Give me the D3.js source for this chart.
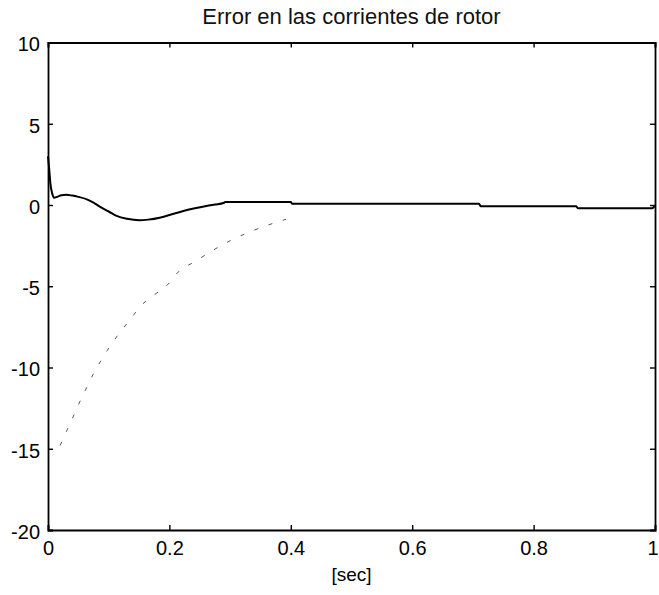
<!DOCTYPE html>
<html>
<head>
<meta charset="utf-8">
<script src="https://cdn.jsdelivr.net/npm/d3@7"></script>
<style>
  body { margin: 0; background: #fff; overflow: hidden; }
  svg { display: block; }
</style>
</head>
<body>
<svg id="chart"></svg>
<script>
// Data
const xTicks = [0, 0.2, 0.4, 0.6, 0.8, 1];
const yTicks = [-20, -15, -10, -5, 0, 5, 10];

// Error (solid line)
const errTime = [0, 0.002, 0.004, 0.007, 0.01, 0.015, 0.022, 0.03, 0.04, 0.05, 0.064, 0.075, 0.086, 0.1, 0.113,
                 0.13, 0.151, 0.165, 0.184, 0.2, 0.223, 0.24, 0.261, 0.275, 0.289, 0.292, 0.4, 0.402, 0.71, 0.713,
                 0.87, 0.873, 0.995, 1.0];
const errValue = [3.0, 2.2, 1.3, 0.7, 0.45, 0.5, 0.6, 0.63, 0.58, 0.5, 0.35, 0.15, -0.12, -0.4, -0.67,
                  -0.85, -0.94, -0.9, -0.78, -0.62, -0.37, -0.22, -0.06, 0.03, 0.12, 0.18, 0.18, 0.08, 0.08, -0.08,
                  -0.08, -0.2, -0.2, -0.05];

// Reference trace (faint dashed line)
const refTime = [0.02, 0.032, 0.043, 0.05, 0.059, 0.074, 0.102, 0.139, 0.153, 0.167, 0.203, 0.21, 0.244, 0.3, 0.35, 0.392];
const refValue = [-14.8, -13.8, -12.9, -12.3, -11.6, -10.45, -8.7, -6.87, -6.2, -5.75, -4.66, -4.31, -3.44, -2.2, -1.4, -0.88];

const width = 659, height = 595;
const margin = { top: 42.5, right: 4, bottom: 65, left: 48 };
const innerWidth = width - margin.left - margin.right;
const innerHeight = height - margin.top - margin.bottom;
const fontFamily = '"Liberation Sans", Arial, sans-serif';

const svg = d3.select('#chart')
    .attr('width', width)
    .attr('height', height)
    .attr('font-family', fontFamily);

const g = svg.append('g')
    .attr('transform', `translate(${margin.left}, ${margin.top})`);

const x = d3.scaleLinear().domain([0, 1]).range([0, innerWidth]);
const y = d3.scaleLinear().domain([-20, 10]).range([innerHeight, 0]);

// Title
svg.append('text')
    .attr('x', margin.left + innerWidth / 2)
    .attr('y', 24)
    .attr('text-anchor', 'middle')
    .attr('font-size', 22)
    .attr('fill', '#111')
    .text('Error en las corrientes de rotor');

// Axes with inward ticks on all four sides (MATLAB style)
const tickLen = 5;

const xBottom = g.append('g')
    .attr('transform', `translate(0, ${innerHeight})`)
    .call(d3.axisBottom(x).tickValues(xTicks).tickSize(-tickLen).tickPadding(11).tickFormat(d => String(d)));
const xTop = g.append('g')
    .call(d3.axisTop(x).tickValues(xTicks).tickSize(-tickLen).tickFormat(''));
const yLeft = g.append('g')
    .call(d3.axisLeft(y).tickValues(yTicks).tickSize(-tickLen).tickPadding(8).tickFormat(d => String(d)));
const yRight = g.append('g')
    .attr('transform', `translate(${innerWidth}, 0)`)
    .call(d3.axisRight(y).tickValues(yTicks).tickSize(-tickLen).tickFormat(''));

// top and right axes carry no labels
xTop.selectAll('.tick text').remove();
yRight.selectAll('.tick text').remove();

[xBottom, xTop, yLeft, yRight].forEach(a => {
    a.attr('font-size', 20).attr('font-family', fontFamily);
    a.select('.domain').attr('stroke', '#000').attr('stroke-width', 1.8);
    a.selectAll('.tick line').attr('stroke', '#000').attr('stroke-width', 1.4);
    a.selectAll('.tick text').attr('fill', '#000');
});
yLeft.selectAll('.tick text').attr('dy', '0.42em');

// keep the last x label inside the page
xBottom.selectAll('.tick text')
    .filter(d => d === 1)
    .attr('text-anchor', 'end')
    .attr('x', 3);

// X-axis label
svg.append('text')
    .attr('x', margin.left + innerWidth / 2)
    .attr('y', 581)
    .attr('text-anchor', 'middle')
    .attr('font-size', 19)
    .attr('fill', '#000')
    .text('[sec]');

// Reference trace
const refData = refTime.map((t, i) => ({ t, v: refValue[i] }));
g.append('path')
    .datum(refData)
    .attr('fill', 'none')
    .attr('stroke', '#555')
    .attr('stroke-width', 1)
    .attr('stroke-dasharray', '4,11')
    .attr('d', d3.line().x(d => x(d.t)).y(d => y(d.v)).curve(d3.curveMonotoneX));

// Error trace
const errData = errTime.map((t, i) => ({ t, v: errValue[i] }));
g.append('path')
    .datum(errData)
    .attr('fill', 'none')
    .attr('stroke', '#000')
    .attr('stroke-width', 2)
    .attr('stroke-linejoin', 'round')
    .attr('d', d3.line().x(d => x(d.t)).y(d => y(d.v)).curve(d3.curveMonotoneX));
</script>
</body>
</html>
